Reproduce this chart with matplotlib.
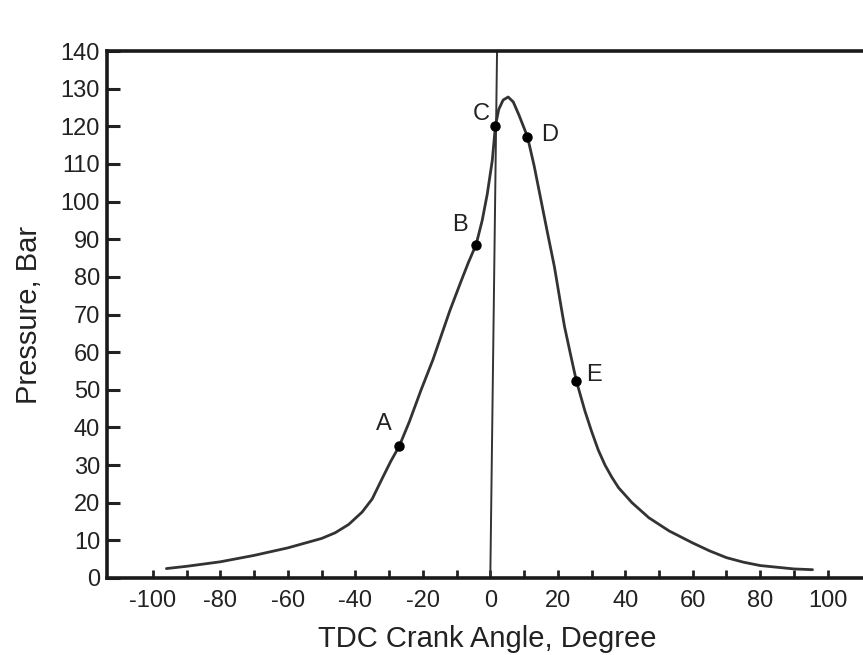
import numpy as np
import matplotlib.pyplot as plt

plt.rcParams['font.family'] = ['Liberation Sans', 'DejaVu Sans']
plt.rcParams['axes.unicode_minus'] = False

# cylinder pressure trace vs crank angle (deg from TDC)
crank_angle = [-96, -90, -80, -70, -60, -50, -46, -42, -38, -35, -32, -29.5,
               -27, -24, -20.5, -17, -14.5, -12, -8.6, -6.5, -4.2, -2.4,
               -0.9, 0.6, 1.5, 2.5, 3.8, 5.3, 6.8, 8.5, 11, 13, 15, 17, 19,
               21, 22, 24, 25.5, 28, 30, 32, 34, 36, 38, 42, 47, 53, 60, 65,
               70, 75, 80, 90, 95.5]
pressure = [2.5, 3.1, 4.3, 6.0, 8.0, 10.5, 12.0, 14.2, 17.5, 21, 26.5, 31,
            35, 41.5, 50, 58, 64.5, 71, 79, 83.8, 88.6, 95,
            102, 111, 120, 124.5, 127, 127.8, 126.5, 123, 117.3, 109.5, 100.5, 91.5, 82.7,
            72, 66.8, 58.5, 52.4, 44.5, 39, 34, 30, 26.8, 24, 20, 16, 12.5, 9.3, 7.2,
            5.4, 4.2, 3.3, 2.4, 2.2]

# labelled points on the curve
point_names = ["A", "B", "C", "D", "E"]
point_angle = [-27, -4.2, 1.5, 11, 25.5]
point_pressure = [35, 88.6, 120, 117.3, 52.4]
label_offsets = [(-11, 16), (-12, 14), (-10, 9), (16, 1), (13, 4)]

# TDC reference line (slightly skewed in the source figure)
tdc_x = [0.0, 2.0]
tdc_y = [0, 140]

x_major = np.arange(-100, 101, 20)
x_minor = np.arange(-100, 101, 10)
y_ticks = np.arange(0, 141, 10)

fig = plt.figure(figsize=(8.63, 6.55), dpi=100)
ax = fig.add_axes([0.124, 0.1176, 0.882, 0.8044])

ax.plot(tdc_x, tdc_y, color='#333333', lw=1.4)
ax.plot(crank_angle, pressure, color='#333333', lw=2.0, solid_capstyle='round',
        solid_joinstyle='round')
ax.plot(point_angle, point_pressure, 'o', color='black', ms=6.5)

for name, px, py, off in zip(point_names, point_angle, point_pressure, label_offsets):
    ax.annotate(name, (px, py), xytext=off, textcoords='offset points',
                ha='center', va='center', fontsize=17, color='#222222')

ax.set_xlim(-113.6, 112)
ax.set_ylim(0, 140)

ax.set_xticks(x_major)
ax.set_xticks(x_minor, minor=True)
ax.set_yticks(y_ticks)
ax.tick_params(axis='x', which='both', direction='in', length=6, width=2,
               labelsize=17, pad=9, colors='#222222')
ax.tick_params(axis='y', direction='in', length=9, width=2.2,
               labelsize=17, pad=5, colors='#222222')

for s in ax.spines.values():
    s.set_linewidth(2.6)
    s.set_color('#1a1a1a')

ax.set_xlabel("TDC Crank Angle, Degree", fontsize=21, color='#222222', labelpad=9)
ax.set_ylabel("Pressure, Bar", fontsize=21, color='#222222', labelpad=13)

fig.savefig("out.png", dpi=100)
